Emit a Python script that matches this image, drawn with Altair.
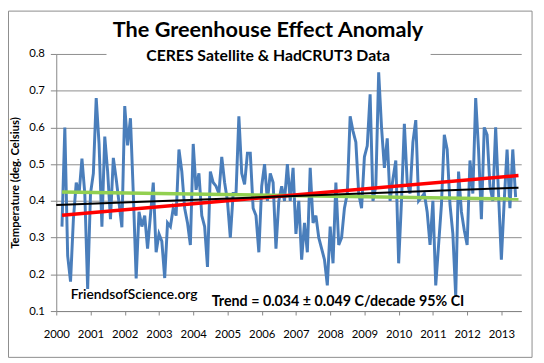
import altair as alt
import pandas as pd

# Monthly anomaly (deg C), first value = March 2000
anomaly = [
    0.33, 0.60, 0.25, 0.18, 0.35, 0.45, 0.42, 0.515, 0.42, 0.16,
    0.42, 0.475, 0.68, 0.555, 0.33, 0.575, 0.48, 0.35, 0.517, 0.46,
    0.395, 0.328, 0.658, 0.551, 0.625, 0.42, 0.189, 0.37, 0.33, 0.36,
    0.27, 0.36, 0.45, 0.26, 0.31, 0.29, 0.19, 0.34, 0.33, 0.38,
    0.36, 0.54, 0.48, 0.38, 0.34, 0.28, 0.555, 0.43, 0.475, 0.36,
    0.33, 0.22, 0.48, 0.45, 0.44, 0.42, 0.52, 0.45, 0.40, 0.30,
    0.42, 0.42, 0.63, 0.475, 0.445, 0.53, 0.53, 0.38, 0.36, 0.26,
    0.44, 0.50, 0.40, 0.475, 0.45, 0.27, 0.40, 0.44, 0.40, 0.50,
    0.40, 0.49, 0.31, 0.40, 0.24, 0.34, 0.26, 0.49, 0.34, 0.36,
    0.30, 0.27, 0.24, 0.17, 0.33, 0.23, 0.45, 0.28, 0.30, 0.38,
    0.42, 0.63, 0.59, 0.56, 0.42, 0.38, 0.52, 0.55, 0.69, 0.40,
    0.44, 0.75, 0.60, 0.49, 0.57, 0.40, 0.46, 0.51, 0.23, 0.40,
    0.61, 0.45, 0.42, 0.56, 0.62, 0.40, 0.41, 0.42, 0.37, 0.28,
    0.40, 0.17, 0.28, 0.39, 0.58, 0.54, 0.39, 0.31, 0.14, 0.48,
    0.37, 0.32, 0.28, 0.51, 0.42, 0.68, 0.54, 0.35, 0.60, 0.58,
    0.44, 0.40, 0.60, 0.42, 0.24, 0.40, 0.54, 0.38, 0.54, 0.41,
]
start_year = 2000
start_month = 3  # March

year_ticks = list(range(2000, 2014))
temp_ticks = [0.1, 0.2, 0.3, 0.4, 0.5, 0.6, 0.7, 0.8]

# Trend lines: endpoints (year, value)
red_x = [2000.17, 2013.5]
red_y = [0.361, 0.469]
black_x = [2000.0, 2013.5]
black_y = [0.389, 0.436]
green_x = [2000.17, 2013.5]
green_y = [0.424, 0.405]

title_text = "The Greenhouse Effect Anomaly"
subtitle_text = "CERES Satellite & HadCRUT3 Data"
site_text = "FriendsofScience.org"
trend_text = "Trend = 0.034 \u00b1 0.049 C/decade 95% CI"
y_title = "Temperature (deg. Celsius)"

FONT = "Lato"

xs = [start_year + (start_month - 1 + i) / 12 for i in range(len(anomaly))]
df = pd.DataFrame({"x": xs, "y": anomaly})

xscale = alt.Scale(domain=[2000, 2013.58], nice=False, zero=False)
yscale = alt.Scale(domain=[0.1, 0.8], nice=False, zero=False)

xaxis = alt.Axis(values=year_ticks, format="d", title=None, grid=False,
                 tickSize=4, tickColor="#868686", domainColor="#868686",
                 labelFont=FONT, labelFontSize=11.5, labelColor="#000000",
                 labelPadding=14, labelFlush=False, labelOverlap=False)
yaxis = alt.Axis(values=temp_ticks, format=".1f", title=y_title, grid=True,
                 gridColor="#8c8c8c", gridWidth=1,
                 tickSize=6, tickColor="#868686", domainColor="#868686",
                 labelFont=FONT, labelFontSize=11.5, labelColor="#000000",
                 labelPadding=6, labelOverlap=False, labelFlush=False,
                 titleFont=FONT, titleFontSize=11.5,
                 titleFontWeight="bold", titleColor="#000000", titlePadding=8)

X = alt.X("x:Q", scale=xscale, axis=xaxis)
Y = alt.Y("y:Q", scale=yscale, axis=yaxis)

blue = alt.Chart(df).mark_line(color="#4a7ebb", strokeWidth=3).encode(x=X, y=Y)

def trend(xv, yv, color, w):
    d = pd.DataFrame({"x": xv, "y": yv})
    return alt.Chart(d).mark_line(color=color, strokeWidth=w).encode(x=X, y=Y)

green = trend(green_x, green_y, "#92d050", 3.5)
red = trend(red_x, red_y, "#ff0000", 3.5)
black = trend(black_x, black_y, "#000000", 2)

one = pd.DataFrame({"a": [0]})
white_box = alt.Chart(one).mark_rect(color="white").encode(
    x=alt.value(51), x2=alt.value(380), y=alt.value(-8), y2=alt.value(12))

frame = alt.Chart(one).mark_rect(fill=None, filled=False, stroke="#8c8c8c",
                                 strokeWidth=1, clip=False).encode(
    x=alt.value(-48.5), x2=alt.value(483), y=alt.value(-43.5), y2=alt.value(308))

def label(txt, x, y, size, weight="bold"):
    return alt.Chart(one).mark_text(text=txt, font=FONT, fontSize=size,
                                    fontWeight=weight, color="#000000",
                                    align="center", baseline="middle").encode(
        x=alt.value(x), y=alt.value(y))

title = label(title_text, 215, -24, 22)
subtitle = label(subtitle_text, 215, 2, 16)
site = label(site_text, 79, 245, 14, 600)
trend_lbl = label(trend_text, 286, 252, 14.5)

chart = alt.layer(frame, blue, green, red, black, white_box, title, subtitle, site, trend_lbl).properties(
    width=472, height=261,
    padding={"left": 49, "top": 44, "right": 15, "bottom": 46},
    autosize=alt.AutoSizeParams(type="none"),
    background="white",
).configure_view(stroke=None)

chart.save("out.html", embed_options={"renderer": "svg", "actions": False})
